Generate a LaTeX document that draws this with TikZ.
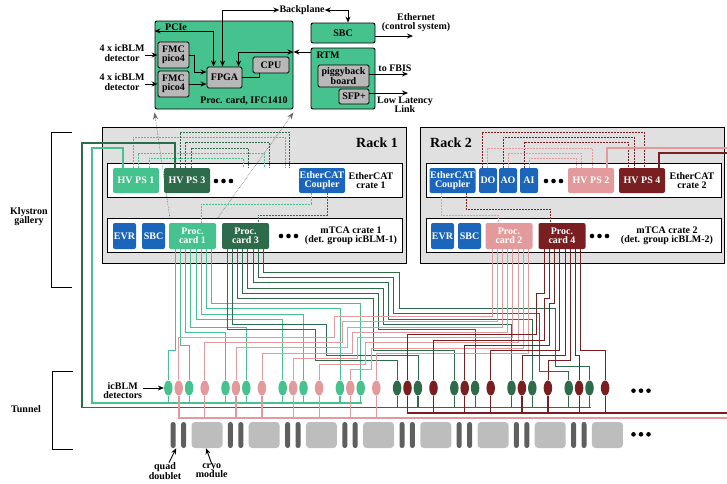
\documentclass[tikz,border=0pt]{standalone}
\usepackage{fontspec}
\setmainfont{Liberation Serif}
\usetikzlibrary{arrows.meta,shapes.geometric}
\definecolor{greenA}{HTML}{46C28E}
\definecolor{greenB}{HTML}{2E6B4A}
\definecolor{pinkA}{HTML}{E39A9C}
\definecolor{redB}{HTML}{7A1F21}
\definecolor{blueA}{HTML}{1B66BA}
\definecolor{rackgrey}{HTML}{E0E0E0}
\definecolor{boxgrey}{HTML}{B8B8B8}
\definecolor{quadgrey}{HTML}{5F5F5F}
\definecolor{cryogrey}{HTML}{BDBDBD}
\newcommand\DotRow[2]{\foreach \k in {-7.5,0,7.5} {\fill ({#1+\k},#2) circle (2.3pt);}}
\tikzset{
  lbl/.style={
    font = \fontsize{10}{9.2}\selectfont\bfseries,
    align = center,
    inner sep = 0pt
  },
  panel/.style={
    lbl,
    shape = rectangle,
    rounded corners = 2pt,
    draw,
    line width = 0.9pt,
    fill = greenA
  },
  chip/.style={
    lbl,
    shape = rectangle,
    rounded corners = 1.5pt,
    draw,
    line width = 0.9pt,
    fill = boxgrey
  },
  rack/.style={
    shape = rectangle,
    draw,
    line width = 0.8pt,
    fill = rackgrey,
    minimum width = 304pt,
    minimum height = 136pt
  },
  crate/.style={
    shape = rectangle,
    draw,
    line width = 0.9pt,
    fill = white,
    minimum height = 34pt
  },
  module/.style={
    lbl,
    shape = rectangle,
    rounded corners = 2pt,
    text = white,
    minimum width = 46pt,
    minimum height = 25pt
  },
  slot/.style={
    module,
    fill = blueA,
    minimum width = 23pt,
    minimum height = 26pt
  },
  card/.style={
    module,
    minimum width = 47pt,
    minimum height = 26pt
  },
  detector/.style={
    shape = ellipse,
    inner sep = 0pt,
    minimum width = 8.5pt,
    minimum height = 15pt
  },
  quad/.style={
    shape = rectangle,
    rounded corners = 2.4pt,
    inner sep = 0pt,
    fill = quadgrey,
    minimum width = 5pt,
    minimum height = 26pt
  },
  cryo/.style={
    shape = rectangle,
    rounded corners = 3.5pt,
    inner sep = 0pt,
    fill = cryogrey,
    minimum width = 31pt,
    minimum height = 26pt
  },
  arrow/.style={
    -{Stealth[length=6pt,width=5pt]},
    line width = 0.9pt
  },
  twoway/.style={
    {Stealth[length=6pt,width=5pt]}-{Stealth[length=6pt,width=5pt]},
    line width = 0.9pt
  },
  dotarrow/.style={
    -{Stealth[length=7pt,width=5pt]},
    gray!80!black,
    line width = 0.6pt,
    densely dotted
  },
  dashline/.style={
    line width = 0.6pt,
    dash pattern = on 2pt off 1pt
  },
  wire/.style={
    line width = 0.6pt
  },
  stub/.style={
    line width = 1.2pt
  },
  bus/.style={
    line width = 1.8pt
  }
}

\begin{document}
\begin{tikzpicture}[x=1pt,y=-1pt]
\useasboundingbox (0,0) rectangle (727,483);

% processing card and RTM
\node[panel, minimum width=138pt, minimum height=88pt] (proc) at (224,65) {};
\node[panel, minimum width=64pt, minimum height=20pt] (sbctop) at (343,33) {SBC};
\node[panel, minimum width=64pt, minimum height=61pt] (rtm) at (343,78.5) {};
\node[chip, minimum width=31pt, minimum height=26pt] (fmcA) at (173.5,55) {FMC\\pico4};
\node[chip, minimum width=31pt, minimum height=26pt] (fmcB) at (173.5,84) {FMC\\pico4};
\node[chip, minimum width=35pt, minimum height=21pt] (fpga) at (224.5,77.5) {FPGA};
\node[chip, minimum width=36pt, minimum height=16pt] (cpu) at (271,65) {CPU};
\node[chip, minimum width=51pt, minimum height=22pt] (piggy) at (343.5,76) {piggyback\\board};
\node[chip, minimum width=30pt, minimum height=15pt] (sfp) at (354,96.5) {SFP+};

\node[lbl] (lblpcie) at (176,27) {PCIe};
\node[lbl] (lblback) at (302,10) {Backplane};
\node[lbl] (lblproc) at (244,101) {Proc. card, IFC1410};
\node[lbl] (lblrtm) at (328,55) {RTM};
\node[lbl] (lbldetA) at (122,53) {4 x icBLM\\detector};
\node[lbl] (lbldetB) at (122,82) {4 x icBLM\\detector};
\node[lbl] (lbleth) at (416,23) {Ethernet\\(control system)};
\node[lbl] (lblfbis) at (395,68) {to FBIS};
\node[lbl] (lbllink) at (405,105) {Low Latency\\Link};

\coordinate (ethend) at (413,36);
\coordinate (fbisend) at (408,74);
\coordinate (linkend) at (408,93);

\draw[arrow] (lbldetA.east |- fmcA.west) -- (fmcA.west);
\draw[arrow] (lbldetB.east |- fmcB.west) -- (fmcB.west);
\draw[arrow] (fmcA.east) -- ++(5,0) |- ([yshift=5.5pt]fpga.west);
\draw[arrow] (fmcB.east) -- (fmcB.east -| fpga.west);
\draw[line width=0.9pt] (fpga.east) -| ([xshift=7pt]cpu.south west);
\draw[twoway] ([xshift=7pt]fpga.north west) |- (proc.west |- 0,31);
\draw[twoway] ([xshift=16pt]fpga.north west) |- (lblback.west);
\draw[twoway] (lblback.east) -| ([xshift=5pt]sbctop.north);
\draw[twoway] ([xshift=32pt]fpga.north west) |- (proc.east |- 0,52);
\draw[arrow] (rtm.west |- 0,52) -- (proc.east |- 0,52);
\draw[arrow] (sbctop.east |- ethend) -- (ethend);
\draw[arrow] (piggy.east |- fbisend) -- (fbisend);
\draw[arrow] (sfp.east |- linkend) -- (linkend);

% rack 1
\node[rack] (rackA) at (254,195) {};
\node[lbl, font=\fontsize{14}{14}\selectfont\bfseries] (lblrackA) at (377,143) {Rack 1};
\node[crate, minimum width=295pt] (ethA) at (254.5,180) {};

\coordinate (dotA) at (170,219);
\coordinate (dotB) at (217,219);
\draw[dotarrow] (dotA) -- ([yshift=-3pt]proc.south west);
\draw[dotarrow] (dotB) -- ([yshift=-3pt]proc.south east);

\node[crate, minimum width=295pt] (mtcaA) at (254.5,235) {};
\node[module, fill=greenA] (hvA) at (136,180.5) {HV PS 1};
\node[module, fill=greenB] (hvC) at (187,180.5) {HV PS 3};
\node[module, fill=blueA] (coupA) at (322,180.5) {EtherCAT\\Coupler};
\node[slot] (evrA) at (124.5,236) {EVR};
\node[slot] (sbcA) at (153.5,236) {SBC};
\node[card, fill=greenA] (cardA) at (192.5,236) {Proc.\\card 1};
\node[card, fill=greenB] (cardC) at (245.5,236) {Proc.\\card 3};
\node[lbl] (lblethA) at (371,180.5) {EtherCAT\\crate 1};
\node[lbl] (lblmtcaA) at (351,235.5) {mTCA crate 1\\(det. group icBLM-1)};
\DotRow{223.5}{181}
\DotRow{288.5}{236}

% rack 2
\node[rack] (rackB) at (572,195) {};
\node[lbl, font=\fontsize{14}{14}\selectfont\bfseries] (lblrackB) at (451,143) {Rack 2};
\node[crate, minimum width=295pt] (ethB) at (573.5,180) {};
\node[crate, minimum width=295pt] (mtcaB) at (573.5,235) {};
\node[module, fill=blueA] (coupB) at (452.5,180.5) {EtherCAT\\Coupler};
\node[module, fill=blueA, minimum width=18pt] (doB) at (488,180.5) {DO};
\node[module, fill=blueA, minimum width=18pt] (aoB) at (508,180.5) {AO};
\node[module, fill=blueA, minimum width=18pt] (aiB) at (529,180.5) {AI};
\node[module, fill=pinkA] (hvB) at (591,180.5) {HV PS 2};
\node[module, fill=redB] (hvD) at (642,180.5) {HV PS 4};
\node[slot] (evrB) at (442.5,236) {EVR};
\node[slot] (sbcB) at (469.5,236) {SBC};
\node[card, fill=pinkA] (cardB) at (509,236) {Proc.\\card 2};
\node[card, fill=redB] (cardD) at (562,236) {Proc.\\card 4};
\node[lbl] (lblethB) at (692,180.5) {EtherCAT\\crate 2};
\node[lbl] (lblmtcaB) at (667,235.5) {mTCA crate 2\\(det. group icBLM-2)};
\DotRow{553.5}{181}
\DotRow{599.5}{236}

% ethercat signal lines
\foreach \md/\off/\xe/\yt in {hvA/20/285/137,hvA/25/264/153,hvA/36/243/158}
  \draw[dashline, greenA] ([xshift=\off pt]\md.north west) |- (\xe,\yt) -- (\xe,0 |- \md.north);
\foreach \md/\off/\xe/\yt in {hvC/16/289/132,hvC/21/269/142,hvC/27/248/148}
  \draw[dashline, greenB] ([xshift=\off pt]\md.north west) |- (\xe,\yt) -- (\xe,0 |- \md.north);
\foreach \md/\off/\xe/\yt in {doB/3/644/132,aoB/4/634/137,aiB/4/628/142}
  \draw[dashline, redB] ([xshift=\off pt]\md.north west) |- (\xe,\yt) -- (\xe,0 |- \md.north);
\foreach \md/\off/\xe/\yt in {doB/8/592/148,aoB/9/581/153,aiB/9/576/158}
  \draw[dashline, pinkA] ([xshift=\off pt]\md.north west) |- (\xe,\yt) -- (\xe,0 |- \md.north);

\draw[dashline, greenA] ([xshift=-11pt]coupA.south) |- (201,204) -- ([xshift=8.5pt]cardA.north);
\draw[dashline, greenB] ([xshift=5pt]coupA.south) |- (258,215) -- ([xshift=12.5pt]cardC.north);
\draw[dashline, pinkA] ([xshift=-11.5pt]coupB.south) |- (498,215) -- ([xshift=-11pt]cardB.north);
\draw[dashline, redB] ([xshift=13.5pt]coupB.south) |- (550,209) -- ([xshift=-12pt]cardD.north);

% detectors and cryomodules
\foreach \i/\colA/\colB in {0/greenA/pinkA,1/greenA/pinkA,2/greenA/pinkA,3/greenA/pinkA,4/greenB/redB,5/greenB/redB,6/greenB/redB,7/greenB/redB}{
  \pgfmathsetmacro\xd{168.3+57.2*\i}
  \node[detector, fill=\colA] (da\i) at (\xd,388) {};
  \node[detector, fill=\colB] (db\i) at ({\xd+10.4},388) {};
  \node[detector, fill=\colA] (dc\i) at ({\xd+20.8},388) {};
  \node[detector, fill=\colB] (dd\i) at ({\xd+36.4},388) {};
  \node[quad] (qa\i) at ({\xd+4.9},435) {};
  \node[quad] (qb\i) at ({\xd+15.3},435) {};
  \node[cryo] (cr\i) at ({\xd+38.7},435) {};
}
\DotRow{641}{390.7}
\DotRow{641}{434.3}

% supply buses
\coordinate (busAend) at (362,403);
\coordinate (busCend) at (590.5,407.5);
\coordinate (busBend) at (727,418);
\coordinate (busDend) at (727,413);
\draw[bus, greenA] ([xshift=10pt]hvA.north west) |- (92,148) |- (busAend);
\draw[bus, greenB] ([xshift=11pt]hvC.north west) |- (82,143) |- (busCend);
\draw[bus, pinkA] ([xshift=39pt]hvB.north west) |- (727,148);
\draw[bus, redB] ([xshift=40pt]hvD.north west) |- (727,153);
\foreach \i in {0,1,2,3}{
  \draw[stub, greenA] (da\i.south) -- (da\i.south |- busAend);
  \draw[stub, greenA] (dc\i.south) -- (dc\i.south |- busAend);
  \draw[stub, pinkA] (dd\i.south) -- (dd\i.south |- busBend);
  \ifnum\i>0
  \draw[stub, pinkA] (db\i.south) -- (db\i.south |- busBend);
  \fi
}
\foreach \i in {4,5,6,7}{
  \draw[stub, greenB] (da\i.south) -- (da\i.south |- busCend);
  \draw[stub, greenB] (dc\i.south) -- (dc\i.south |- busCend);
  \draw[stub, redB] (dd\i.south) -- (dd\i.south |- busDend);
  \ifnum\i>4
  \draw[stub, redB] (db\i.south) -- (db\i.south |- busDend);
  \fi
}
\draw[bus, pinkA] (db0.south) |- (busBend);
\draw[bus, redB] (db4.south) |- (busDend);

% signal wires, card to detector
\foreach \off/\lev/\dt in {6.3/350.5/da0,11.3/345/dc0,16.3/332.7/da1,21.7/327.3/dc1,27/319/da2,32/314/dc2,37.3/308.7/da3,42.3/303.5/dc3}
  \draw[wire, greenA] ([xshift=\off pt]cardA.south west) |- (\dt.center |- 0,\lev) -- (\dt.north);

\foreach \off/\lev/\xb/\low/\dt in {5/329.3/315.7/360.7/da4,10.3/324.3/326.3/355.7/dc4,15.3/298.3/373.3/350.3/da5,20.7/293.3/378/329.5/dc5,25.7/288/383.3/324.3/da6,31/282.7/388/318.8/dc6}
  \draw[wire, greenB] ([xshift=\off pt]cardC.south west) |- (\xb,\lev) |- (\dt.center |- 0,\low) -- (\dt.north);
\draw[wire, greenB] ([xshift=36.3pt]cardC.south west) |- (393.7,277.3) |- (539.7,313.7) |- (da7.center |- 0,371) -- (da7.north);
\draw[wire, greenB] ([xshift=41.7pt]cardC.south west) |- (399,272.7) |- (555,308.7) |- (dc7.center |- 0,366) -- (dc7.north);

\foreach \off/\lev/\xb/\low/\dt in {6.7/316.5/334.3/337.3/db0,11.7/321.7/342.3/342.7/dd0,17/327/347.3/347.7/db1,22.3/332.2/352.7/353/dd1,27.3/337.4/357.7/358.3/db2,32.7/342.6/365.7/364/dd2,37.7/347.8/371/369/db3}
  \draw[wire, pinkA] ([xshift=\off pt]cardB.south west) |- (\xb,\lev) |- (\dt.center |- 0,\low) -- (\dt.north);
\draw[wire, pinkA] ([xshift=43.3pt]cardB.south west) |- (dd3.center |- 0,353) -- (dd3.north);

\foreach \off/\lev/\dt in {21.3/350.3/dd5,26.7/355.7/db6,31.7/360.7/dd6,36.7/355.7/db7,42/350.3/dd7}
  \draw[wire, redB] ([xshift=\off pt]cardD.south west) |- (\dt.center |- 0,\lev) -- (\dt.north);
\foreach \off/\lev/\xb/\low/\dt in {5.7/293/536.7/334.7/db4,10.7/298.3/544.7/340/dd4,16/303.3/549.7/345/db5}
  \draw[wire, redB] ([xshift=\off pt]cardD.south west) |- (\xb,\lev) |- (\dt.center |- 0,\low) -- (\dt.north);

% labels
\node[lbl] (lblkly) at (29,217) {Klystron\\gallery};
\node[lbl] (lbltun) at (26,409) {Tunnel};
\node[lbl] (lbldet) at (122.7,390.5) {icBLM\\detectors};
\node[lbl] (lblquad) at (165,471) {quad\\doublet};
\node[lbl] (lblcryo) at (211.7,471) {cryo\\module};
\draw[arrow] ([xshift=1pt]lbldet.east |- da0.west) -- (da0.west);
\draw[arrow] ([xshift=4pt]lblquad.north) -- ([xshift=3pt]qa0.south);
\draw[arrow] (lblcryo.north) -- ([xshift=-1pt]cr0.south);
\draw[line width=0.8pt] (72,132) -- (51.7,132) -- (51.7,287.7) -- (72,287.7);
\draw[line width=0.8pt] (73,371.3) -- (52.7,371.3) -- (52.7,449) -- (73,449);
\end{tikzpicture}
\end{document}
